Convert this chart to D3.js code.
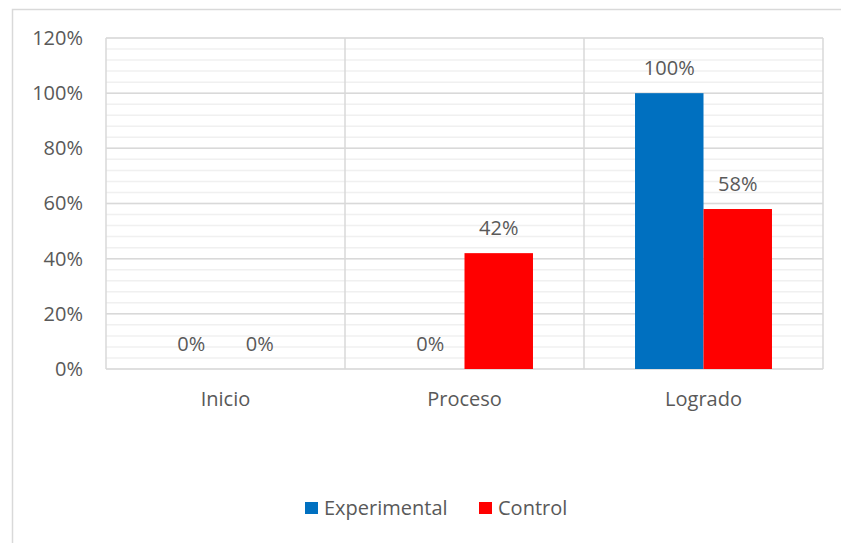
<!DOCTYPE html>
<html><head><meta charset="utf-8">
<script src="https://cdn.jsdelivr.net/npm/d3@7"></script>
<style>
body{margin:0;background:#fff;}
text{font-family:"Open Sans","Noto Sans",sans-serif;fill:#595959;}
</style></head>
<body>
<svg id="c" width="841" height="543"></svg>
<script>
const categories = ["Inicio", "Proceso", "Logrado"];
const seriesNames = ["Experimental", "Control"];
const experimental = [0, 0, 1.00];
const control = [0, 0.42, 0.58];
const yTicks = [0, 0.2, 0.4, 0.6, 0.8, 1.0, 1.2];
const colors = ["#0070C0", "#FF0000"];

const svg = d3.select("#c");
const FS = 20;
const x0 = 106, x1 = 823, y0 = 369, y1 = 38;

// outer frame
svg.append("rect").attr("x",12.5).attr("y",9.5).attr("width",850).attr("height",560)
  .attr("fill","none").attr("stroke","#d9d9d9").attr("stroke-width",1.5);

const x = d3.scaleBand().domain(categories).range([x0,x1]).paddingInner(0).paddingOuter(0);
const xs = d3.scaleBand().domain(seriesNames).range([0,x.bandwidth()]).paddingInner(0).paddingOuter(0.745);
const y = d3.scaleLinear().domain([0,1.2]).range([y0,y1]);

// minor gridlines
const minor = d3.range(0,1.2001,0.04);
svg.append("g").selectAll("line").data(minor).join("line")
  .attr("x1",x0).attr("x2",x1).attr("y1",d=>y(d)).attr("y2",d=>y(d))
  .attr("stroke","#f0f0f0").attr("stroke-width",1.5);
// major gridlines
svg.append("g").selectAll("line").data(yTicks).join("line")
  .attr("x1",x0).attr("x2",x1).attr("y1",d=>y(d)).attr("y2",d=>y(d))
  .attr("stroke","#d9d9d9").attr("stroke-width",1.5);
// vertical category lines
const vx = categories.map(c=>x(c)).concat([x1]);
svg.append("g").selectAll("line").data(vx).join("line")
  .attr("x1",d=>d).attr("x2",d=>d).attr("y1",y1).attr("y2",y0)
  .attr("stroke","#d9d9d9").attr("stroke-width",1.5);

// y axis labels
const yAxis = d3.axisLeft(y).tickValues(yTicks).tickFormat(d3.format(".0%")).tickSize(0).tickPadding(23);
const ga = svg.append("g").attr("transform",`translate(${x0},0)`).call(yAxis);
ga.select(".domain").remove();
ga.selectAll("text").style("font-size",FS+"px").attr("fill","#595959").style("font-family",null);

// x axis labels
const xAxis = d3.axisBottom(x).tickSize(0).tickPadding(23);
const gx = svg.append("g").attr("transform",`translate(0,${y0})`).call(xAxis);
gx.select(".domain").remove();
gx.selectAll("text").style("font-size",FS+"px").attr("fill","#595959").style("font-family",null);

// bars
const data = categories.map((c,i)=>({cat:c, vals:[experimental[i], control[i]]}));
const groups = svg.append("g").selectAll("g").data(data).join("g")
  .attr("transform",d=>`translate(${x(d.cat)},0)`);
groups.selectAll("rect").data(d=>d.vals.map((v,j)=>({v, s:seriesNames[j], j}))).join("rect")
  .attr("x",d=>xs(d.s)).attr("width",xs.bandwidth())
  .attr("y",d=>y(d.v)).attr("height",d=>y0-y(d.v))
  .attr("fill",d=>colors[d.j]);
groups.selectAll("text.lbl").data(d=>d.vals.map((v,j)=>({v, s:seriesNames[j], j}))).join("text")
  .attr("class","lbl")
  .attr("x",d=>xs(d.s)+xs.bandwidth()/2).attr("y",d=>y(d.v)-18)
  .attr("text-anchor","middle").style("font-size",FS+"px")
  .text(d=>d3.format(".0%")(d.v));

// legend
const lg = svg.append("g");
const legX = [305, 479];
seriesNames.forEach((s,i)=>{
  lg.append("rect").attr("x",legX[i]).attr("y",502).attr("width",13).attr("height",12).attr("fill",colors[i]);
  lg.append("text").attr("x",legX[i]+19).attr("y",515).style("font-size",FS+"px").text(s);
});
</script>
</body></html>
